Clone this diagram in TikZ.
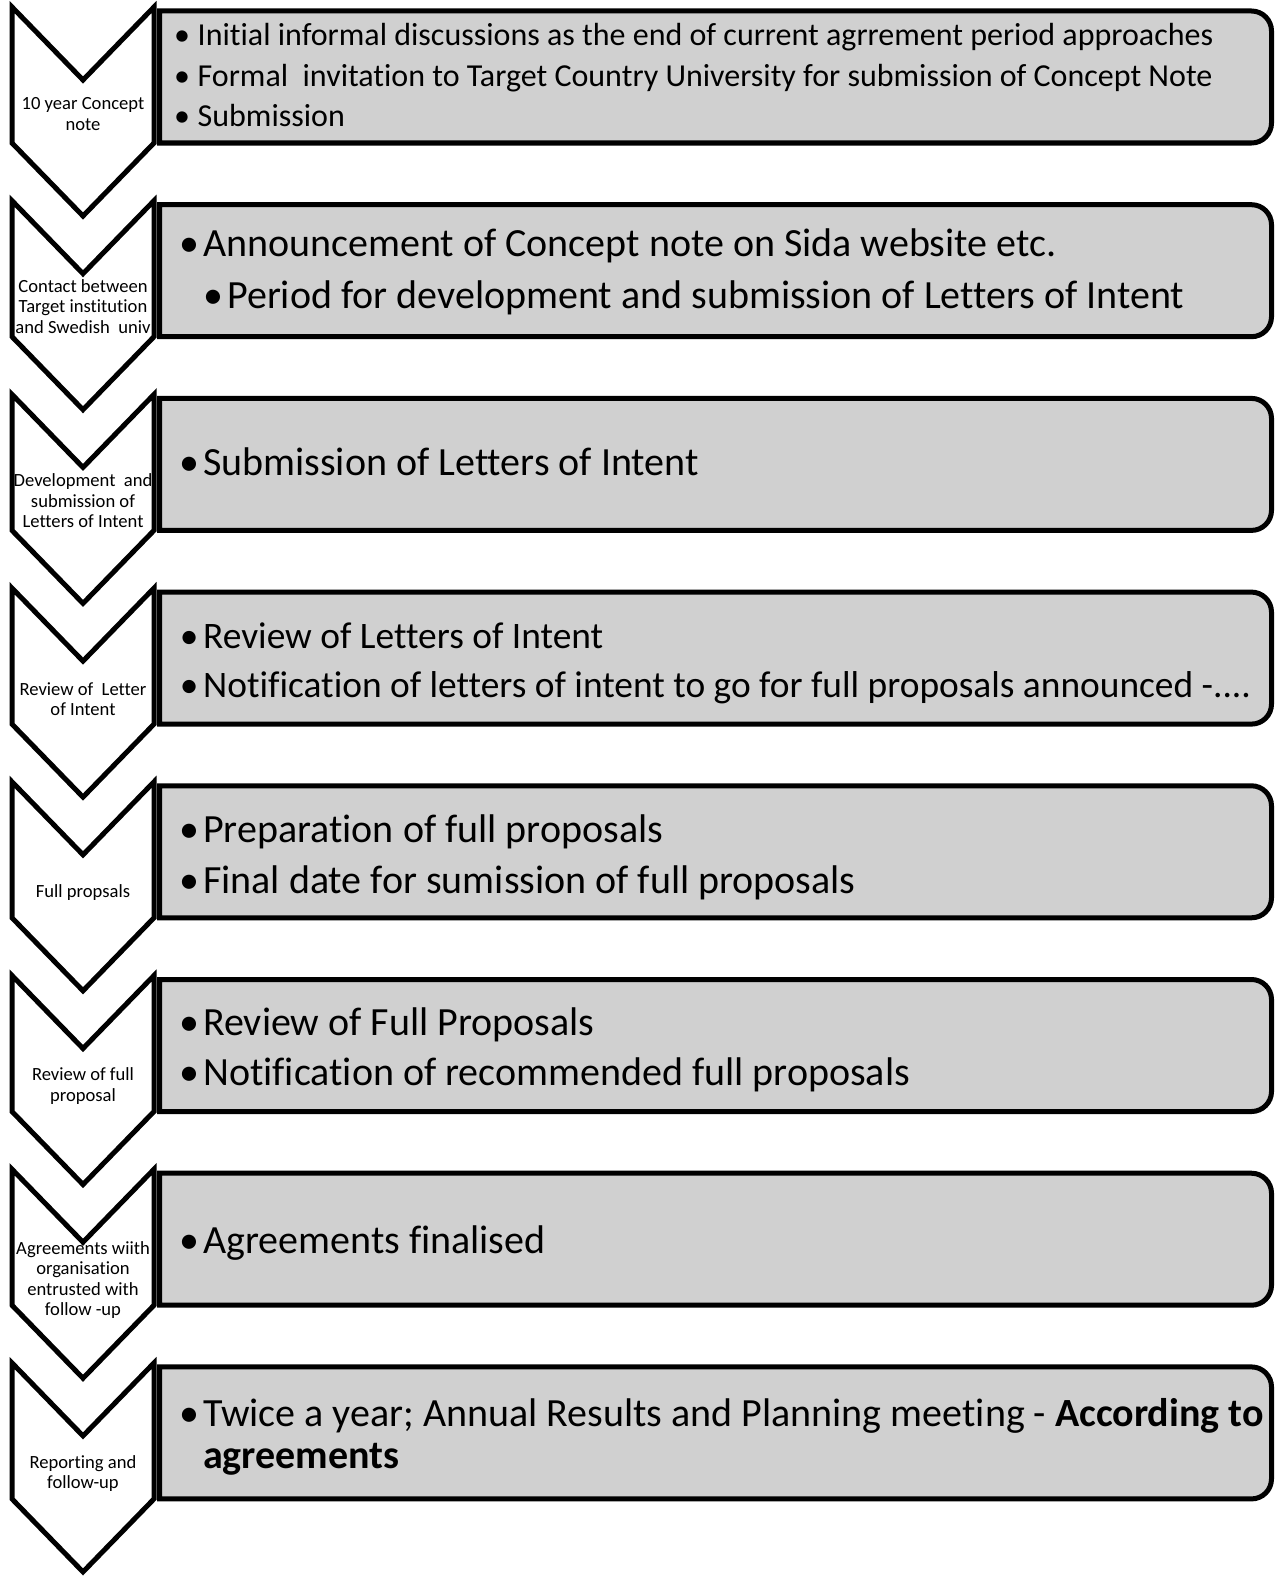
\documentclass[tikz,border=0pt]{standalone}
\usepackage{fontspec}
\setmainfont[Ligatures=NoCommon]{Carlito}
\definecolor{boxgray}{RGB}{208,208,208}
\newcommand{\bul}[1][14]{\llap{\makebox[0pt][c]{•}\hspace{#1pt}}}
\tikzset{
  chev/.style={draw=black, line width=5pt, fill=white, line join=miter, miter limit=10},
  panel/.style={draw=black, line width=5pt, fill=boxgray},
  lab/.style={align=center, inner sep=0pt, font=\fontsize{18.6}{20.5}\selectfont},
  small/.style={anchor=base west, inner sep=0pt, font=\fontsize{32}{38}\selectfont},
  mid/.style={anchor=base west, inner sep=0pt, font=\fontsize{37.4}{44}\selectfont},
  big/.style={anchor=base west, inner sep=0pt, font=\fontsize{40}{47}\selectfont}
}
\begin{document}
\begin{tikzpicture}[x=1pt,y=1pt]
\useasboundingbox (0,0) rectangle (1276,-1576);
\foreach \k in {1,...,8}{
  \pgfmathsetmacro\T{-(7+193.7*(\k-1))}
  \draw[panel] (159.5,\T-4) -- (1251.5,\T-4) arc[start angle=90,end angle=0,radius=20]
     -- (1271.5,\T-116) arc[start angle=0,end angle=-90,radius=20] -- (159.5,\T-136) -- cycle;
  \draw[chev] (12,\T) -- (83,\T-73) -- (154,\T) -- (154,\T-136) -- (83,\T-209) -- (12,\T-136) -- cycle;
}
% chevron labels
\node[lab] (c1) at (83,-114) {10 year Concept\\note};
\node[lab] (c2) at (83,-306.6) {Contact between\\Target institution\\and Swedish\ \ univ};
\node[lab] (c3) at (83,-501) {Development\ \ and\\submission of\\Letters of Intent};
\node[lab] (c4) at (83,-699) {Review of\ \ Letter\\of Intent};
\node[lab] (c5) at (83,-892.5) {Full propsals};
\node[lab] (c6) at (83,-1086) {Review of full\\proposal};
\node[lab] (c7) at (83,-1280) {Agreements wiith\\organisation\\entrusted with\\follow -up};
\node[lab] (c8) at (83,-1473.5) {Reporting and\\follow-up};
% box texts
\node[small] (b1a) at (197.5,-45.2) {\bul[15.5]Initial informal discussions as the end of current agrrement period approaches};
\node[small] (b1b) at (197.5,-86.4) {\bul[15.5]Formal\ \ invitation to Target Country University for submission of Concept Note};
\node[small] (b1c) at (197.5,-126.6) {\bul[15.5]Submission};
\node[big] (b2a) at (203,-256.7) {\bul Announcement of Concept note on Sida website etc.};
\node[big] (b2b) at (227,-308) {\bul Period for development and submission of Letters of Intent};
\node[big] (b3a) at (203,-475.8) {\bul Submission of Letters of Intent};
\node[mid] (b4a) at (203,-648.8) {\bul Review of Letters of Intent};
\node[mid] (b4b) at (203,-697.1) {\bul Notification of letters of intent to go for full proposals announced -....};
\node[big] (b5a) at (203,-842.7) {\bul Preparation of full proposals};
\node[big] (b5b) at (203,-893) {\bul Final date for sumission of full proposals};
\node[big] (b6a) at (203,-1035.7) {\bul Review of Full Proposals};
\node[big] (b6b) at (203,-1085.9) {\bul Notification of recommended full proposals};
\node[big] (b7a) at (203,-1253.8) {\bul Agreements finalised};
\node[big] (b8a) at (203,-1426.7) {\bul Twice a year; Annual Results and Planning meeting - \textbf{According to}};
\node[big] (b8b) at (203,-1468.5) {\textbf{agreements}};
\end{tikzpicture}
\end{document}
